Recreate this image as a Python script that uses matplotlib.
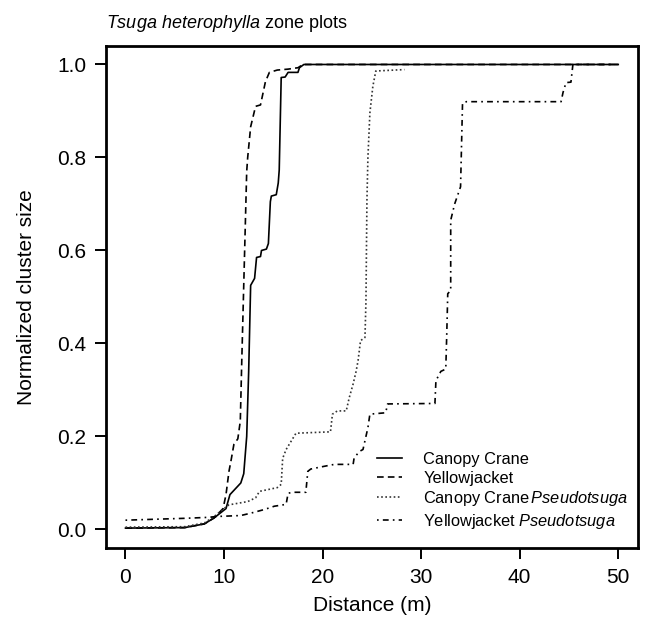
import numpy as np
import matplotlib
matplotlib.use('Agg')
import matplotlib.pyplot as plt

plt.rcParams['font.family'] = ['Liberation Sans', 'DejaVu Sans']
plt.rcParams['mathtext.fontset'] = 'custom'
plt.rcParams['mathtext.rm'] = 'Liberation Sans'
plt.rcParams['mathtext.it'] = 'Liberation Sans:italic'

# ---数据---
cc_x = [0, 6, 8, 9, 10.2, 10.6, 11.7, 12.0, 12.3, 12.5, 12.7, 13.1, 13.3, 13.7, 13.8, 14.3, 14.5,
        14.7, 14.8, 15.3, 15.5, 15.6, 15.8, 16.2, 16.5, 17.5, 17.65, 18.1, 50]
cc_y = [0.003, 0.004, 0.012, 0.025, 0.045, 0.075, 0.10, 0.12, 0.20, 0.34, 0.525, 0.54, 0.585, 0.587,
        0.60, 0.603, 0.615, 0.705, 0.717, 0.72, 0.745, 0.773, 0.972, 0.973, 0.983, 0.983, 0.993, 1.0, 1.0]

yj_x = [0, 6, 8, 9, 9.9, 10.2, 10.5, 10.7, 11.0, 11.4, 11.65, 11.8, 12.3, 12.4, 12.7, 13.2, 13.7,
        14.2, 14.6, 15.4, 16.5, 17.5, 18.0, 50]
yj_y = [0.003, 0.004, 0.012, 0.025, 0.045, 0.075, 0.125, 0.147, 0.183, 0.195, 0.233, 0.363, 0.77,
        0.80, 0.866, 0.91, 0.913, 0.963, 0.983, 0.988, 0.99, 0.993, 1.0, 1.0]

ccp_x = [0, 6, 8, 9, 10.0, 10.5, 12.4, 13.2, 13.6, 15.4, 15.8, 15.95, 16.3, 17.3, 20.8, 21.0, 21.5,
         22.4, 22.7, 23.1, 23.4, 23.6, 23.85, 24.3, 24.4, 24.5, 24.6, 24.8, 25.1, 25.4, 28.3]
ccp_y = [0.005, 0.006, 0.014, 0.028, 0.045, 0.053, 0.06, 0.068, 0.082, 0.09, 0.097, 0.153, 0.172,
         0.207, 0.21, 0.248, 0.255, 0.255, 0.283, 0.313, 0.34, 0.363, 0.406, 0.413, 0.49, 0.708,
         0.80, 0.896, 0.953, 0.986, 0.989]

yjp_x = [0, 6, 8.3, 9.35, 11.7, 12.7, 14.1, 15.1, 16.3, 16.5, 17.0, 18.3, 18.5, 18.8, 20.2, 21.2,
         23.1, 23.2, 23.75, 24.1, 24.6, 24.8, 26.4, 26.6, 31.4, 31.5, 32.0, 32.5, 32.6, 32.7, 33.0,
         33.0, 33.4, 34.0, 34.2, 34.6, 44.2, 44.4, 44.7, 45.2, 45.4, 50]
yjp_y = [0.02, 0.024, 0.026, 0.028, 0.03, 0.035, 0.043, 0.05, 0.054, 0.078, 0.08, 0.08, 0.125, 0.13,
         0.136, 0.14, 0.14, 0.154, 0.168, 0.172, 0.219, 0.248, 0.251, 0.27, 0.271, 0.32, 0.34, 0.345,
         0.42, 0.507, 0.514, 0.665, 0.70, 0.737, 0.917, 0.92, 0.92, 0.94, 0.961, 0.962, 1.0, 1.0]

labels = ['Canopy Crane', 'Yellowjacket',
          r'Canopy Crane$\,\it{Pseudotsuga}$', r'Yellowjacket $\it{Pseudotsuga}$']

fig = plt.figure(figsize=(6.57, 6.2), dpi=100)
ax = fig.add_axes([0.161, 0.116, 0.81, 0.81])

ax.plot(cc_x, cc_y, color='black', lw=1.2, ls='-', label=labels[0])
ax.plot(yj_x, yj_y, color='black', lw=1.2, ls=(0, (4, 2.5)), label=labels[1])
ax.plot(ccp_x, ccp_y, color='#333333', lw=1.2, ls=(0, (1, 1.5)), label=labels[2])
ax.plot(yjp_x, yjp_y, color='black', lw=1.2, ls=(0, (1, 2.5, 3.5, 2.5)), label=labels[3])

ax.set_xlim(-2, 52)
ax.set_ylim(-0.04, 1.04)
ax.set_xticks([0, 10, 20, 30, 40, 50])
ax.set_yticks([0.0, 0.2, 0.4, 0.6, 0.8, 1.0])
ax.set_yticklabels(['0.0', '0.2', '0.4', '0.6', '0.8', '1.0'])
ax.tick_params(direction='out', length=8, width=1.4, labelsize=15, pad=6)
for s in ax.spines.values():
    s.set_linewidth(2.0)

ax.set_xlabel('Distance (m)', fontsize=15, labelpad=7)
ax.set_ylabel('Normalized cluster size', fontsize=15, labelpad=15)
ax.set_title(r'$\it{Tsuga\ heterophylla}$ zone plots', loc='left', fontsize=13, pad=13)

ax.legend(loc='lower right', bbox_to_anchor=(1.0, 0.015), frameon=False, fontsize=11.8,
          handlelength=1.5, handletextpad=1.3, labelspacing=0.22, borderaxespad=0.2)

fig.savefig('out.png', dpi=100)
